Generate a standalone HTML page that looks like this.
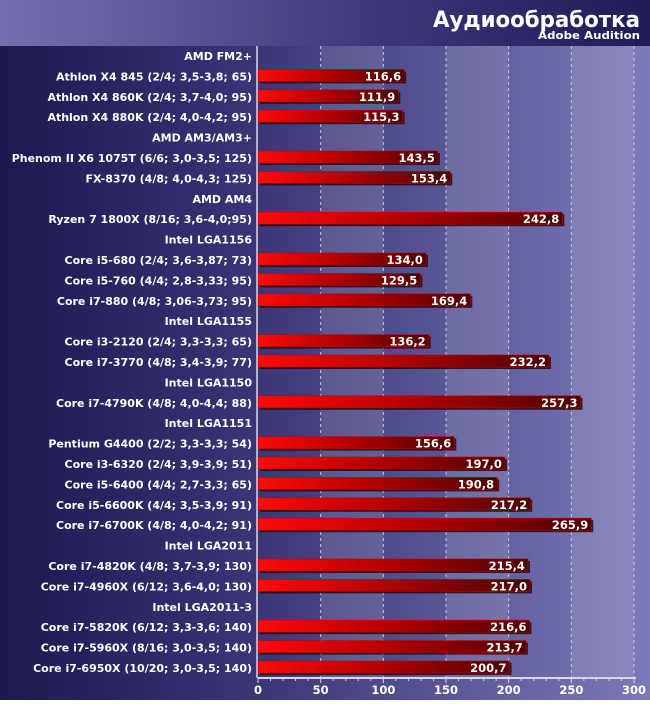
<!DOCTYPE html>
<html><head><meta charset="utf-8"><style>
body{margin:0;width:650px;height:700px;overflow:hidden;font-family:"DejaVu Sans","Liberation Sans",sans-serif}
svg text{font-family:"DejaVu Sans","Liberation Sans",sans-serif;font-weight:bold}
</style></head><body>
<svg id="c" width="650" height="700" xmlns="http://www.w3.org/2000/svg">
<defs>
<linearGradient id="bg" x1="0" x2="1" y1="0" y2="0"><stop offset="0" stop-color="#1c1850"/><stop offset="0.4" stop-color="#3a3678"/><stop offset="1" stop-color="#7c7ab8"/></linearGradient>
<linearGradient id="tb" x1="0" x2="1" y1="0" y2="0"><stop offset="0" stop-color="#7470b0"/><stop offset="0.6" stop-color="#3a3678"/><stop offset="1" stop-color="#201c58"/></linearGradient>
<linearGradient id="bar" x1="0" x2="1" y1="0" y2="0"><stop offset="0" stop-color="#ff0a0a"/><stop offset="0.5" stop-color="#b00000"/><stop offset="1" stop-color="#4a0000"/></linearGradient>
</defs>
<rect width="650" height="700" fill="url(#bg)"/>
<rect width="650" height="46" fill="url(#tb)"/>
<text x="640" y="27" text-anchor="end" font-size="22" textLength="207" lengthAdjust="spacingAndGlyphs" fill="#fff">Аудиообработка</text>
<text x="640" y="39" text-anchor="end" font-size="11" textLength="102" lengthAdjust="spacingAndGlyphs" fill="#fff">Adobe Audition</text>
<g id="bands"></g><g id="grid"></g><g id="bars"></g><g id="labels"></g><g id="axis"></g>
</svg>
<script>
const categories=["AMD FM2+","Athlon X4 845 (2/4; 3,5-3,8; 65)","Athlon X4 860K (2/4; 3,7-4,0; 95)","Athlon X4 880K (2/4; 4,0-4,2; 95)","AMD AM3/AM3+","Phenom II X6 1075T (6/6; 3,0-3,5; 125)","FX-8370 (4/8; 4,0-4,3; 125)","AMD AM4","Ryzen 7 1800X (8/16; 3,6-4,0;95)","Intel LGA1156","Core i5-680 (2/4; 3,6-3,87; 73)","Core i5-760 (4/4; 2,8-3,33; 95)","Core i7-880 (4/8; 3,06-3,73; 95)","Intel LGA1155","Core i3-2120 (2/4; 3,3-3,3; 65)","Core i7-3770 (4/8; 3,4-3,9; 77)","Intel LGA1150","Core i7-4790K (4/8; 4,0-4,4; 88)","Intel LGA1151","Pentium G4400 (2/2; 3,3-3,3; 54)","Core i3-6320 (2/4; 3,9-3,9; 51)","Core i5-6400 (4/4; 2,7-3,3; 65)","Core i5-6600K (4/4; 3,5-3,9; 91)","Core i7-6700K (4/8; 4,0-4,2; 91)","Intel LGA2011","Core i7-4820K (4/8; 3,7-3,9; 130)","Core i7-4960X (6/12; 3,6-4,0; 130)","Intel LGA2011-3","Core i7-5820K (6/12; 3,3-3,6; 140)","Core i7-5960X (8/16; 3,0-3,5; 140)","Core i7-6950X (10/20; 3,0-3,5; 140)"];
const values=[null,116.6,111.9,115.3,null,143.5,153.4,null,242.8,null,134.0,129.5,169.4,null,136.2,232.2,null,257.3,null,156.6,197.0,190.8,217.2,265.9,null,215.4,217.0,null,216.6,213.7,200.7];
const ticks=[0,50,100,150,200,250,300];
const NS="http://www.w3.org/2000/svg";
const X0=258,X1=634,Y0=46,YA=678;
const x=v=>X0+(X1-X0)*v/300;
const y=i=>56+i*20.4;
function el(t,a,p,txt){const e=document.createElementNS(NS,t);for(const k in a)e.setAttribute(k,a[k]);if(txt!=null)e.textContent=txt;document.getElementById(p).appendChild(e);return e;}
for(let k=0;k<ticks.length-1;k++){
 const b=el('rect',{x:x(ticks[k]),y:Y0,width:x(ticks[k+1])-x(ticks[k]),height:YA-Y0,fill:k%2?'rgba(255,255,255,0.12)':'rgba(0,0,0,0)'},'bands');
 
 
}
ticks.forEach((t,k)=>{
 if(k>0){const g=el('line',{x1:x(t),x2:x(t),y1:Y0,y2:YA,stroke:'#c8c8e0','stroke-dasharray':'3,3','stroke-width':1},'grid');
 
 }
 const tl=el('text',{x:x(t),y:YA+16,'text-anchor':'middle','font-size':11.5,fill:'#fff'},'axis',String(t));
 
 
});
for(let v=0;v<=300;v+=10){const m=el('line',{x1:x(v),x2:x(v),y1:YA,y2:YA+(v%50?3:5),stroke:'#d8d8e8'},'axis');
 
 }
const ax=el('line',{x1:X0,x2:X1+2,y1:YA,y2:YA,stroke:'#d8d8e8','stroke-width':2},'axis');


const ay=el('line',{x1:X0-1,x2:X0-1,y1:Y0,y2:YA,stroke:'#d8d8e8','stroke-width':1.5},'axis');


categories.forEach((c,i)=>{
 const yc=y(i);
 const l=el('text',{x:252,y:yc+4,'text-anchor':'end','font-size':11,fill:'#fff'},'labels',c);
 
 
 const v=values[i];
 if(v!=null){
  const s=el('rect',{x:x(0)+2,y:yc-5,width:x(v)-x(0),height:12,fill:'#2a0000',opacity:0.8},'bars');
  
  
  const r=el('rect',{x:x(0),y:yc-7,width:x(v)-x(0),height:12,fill:'url(#bar)',stroke:'#c00000','stroke-width':0.6},'bars');
  
  
  const t=el('text',{x:x(v)-3,y:yc+4,'text-anchor':'end','font-size':11.5,fill:'#fff'},'bars',v.toFixed(1).replace('.',','));
  
  
 }
});
</script>
</body></html>
